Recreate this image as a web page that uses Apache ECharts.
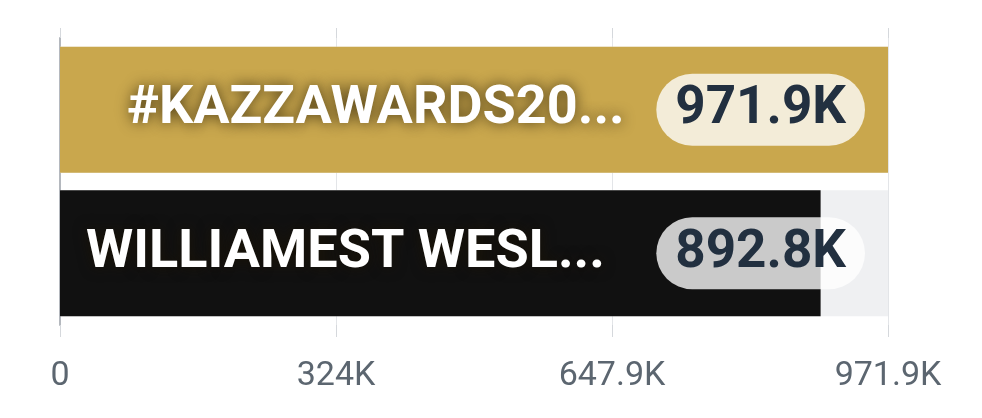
<!DOCTYPE html>
<html>
<head>
<meta charset="utf-8">
<script src="https://cdn.jsdelivr.net/npm/echarts@6/dist/echarts.min.js"></script>
<style>
html,body{margin:0;padding:0;background:#fff;}
#chart{width:982px;height:418px;}
</style>
</head>
<body>
<div id="chart"></div>
<script>
// ---- data ----
var categories = ['#KAZZAWARDS20...', 'WILLIAMEST WESL...'];
var values = [971900, 892800];
var axisMax = 971900;
var tickLabels = ['0', '324K', '647.9K', '971.9K'];

// ---- styling ----
var barColors = ['#c9a74d', '#111111'];
var catLabelIndent = [67, 26];

function fmtK(v) {
  if (v === 0) return '0';
  var k = v / 1000;
  var s = k.toFixed(1);
  if (s.endsWith('.0')) s = s.slice(0, -2);
  return s + 'K';
}

var chart = echarts.init(document.getElementById('chart'), null, {renderer: 'canvas'});

var trackData = categories.map(function () { return axisMax; });
var mainData = values.map(function (v, i) {
  return {
    value: v,
    itemStyle: {color: barColors[i]},
    label: {offset: [catLabelIndent[i], 0]}
  };
});

var option = {
  animation: false,
  grid: {left: 60, right: 94, top: 38, bottom: 93, containLabel: false},
  xAxis: [{
    type: 'value',
    min: 0,
    max: axisMax,
    interval: axisMax / 3,
    position: 'bottom',
    axisLine: {show: false},
    axisTick: {show: true, length: 12, lineStyle: {color: '#d5d8dc', width: 1}},
    splitLine: {show: true, lineStyle: {color: '#e3e5e8', width: 1}},
    axisLabel: {
      show: true,
      fontFamily: 'Roboto',
      fontSize: 34,
      color: '#5c6670',
      margin: 34,
      showMinLabel: true,
      showMaxLabel: true,
      formatter: function (v, idx) { return tickLabels[idx] !== undefined ? tickLabels[idx] : fmtK(v); }
    }
  }, {
    type: 'value',
    min: 0,
    max: axisMax,
    interval: axisMax / 3,
    position: 'top',
    axisLine: {show: false},
    axisTick: {show: true, length: 10, lineStyle: {color: '#d5d8dc', width: 1}},
    splitLine: {show: false},
    axisLabel: {show: false}
  }],
  yAxis: {
    type: 'category',
    data: categories,
    inverse: true,
    axisLine: {show: true, lineStyle: {color: '#b4b8be', width: 2}},
    axisTick: {show: false},
    axisLabel: {show: false},
    splitLine: {show: false}
  },
  series: [{
    name: 'track',
    type: 'bar',
    data: trackData,
    barWidth: 126,
    barGap: '-100%',
    silent: true,
    z: 1,
    itemStyle: {color: '#eff0f2'}
  }, {
    name: 'value',
    type: 'bar',
    data: mainData,
    barWidth: 126,
    barGap: '-100%',
    z: 2,
    label: {
      show: true,
      position: 'insideLeft',
      distance: 0,
      formatter: function (p) { return categories[p.dataIndex]; },
      fontFamily: 'Roboto',
      fontWeight: 'bold',
      fontSize: 54,
      color: '#ffffff',
      textShadowColor: 'rgba(30,20,0,0.75)',
      textShadowBlur: 14
    }
  }, {
    name: 'valueLabel',
    type: 'bar',
    data: trackData,
    barWidth: 126,
    barGap: '-100%',
    z: 3,
    silent: true,
    itemStyle: {color: 'rgba(0,0,0,0)'},
    label: {
      show: true,
      position: 'insideRight',
      distance: 23,
      formatter: function (p) { return fmtK(values[p.dataIndex]); },
      fontFamily: 'Roboto',
      fontWeight: 'bold',
      fontSize: 53,
      lineHeight: 56,
      color: '#223040',
      backgroundColor: 'rgba(255,255,255,0.78)',
      padding: [8, 19, 8, 19],
      borderRadius: 36
    }
  }]
};

chart.setOption(option);
</script>
</body>
</html>
